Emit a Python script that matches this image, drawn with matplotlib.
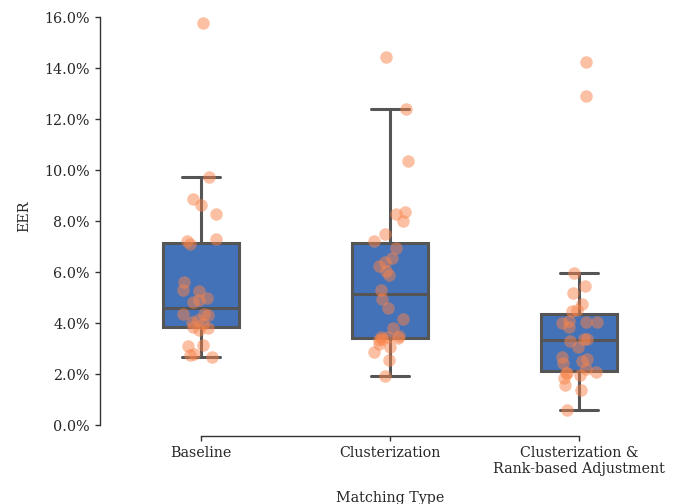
import numpy as np
import pandas as pd
import matplotlib
matplotlib.use("Agg")
import matplotlib.pyplot as plt
import seaborn as sns
from matplotlib.ticker import PercentFormatter

# valores de EER (%)
categorias = ["Baseline", "Clusterization", "Clusterization &\nRank-based Adjustment"]

baseline = [15.76, 9.73, 8.86, 8.64, 8.27, 7.30, 7.20, 7.10, 5.62, 5.27, 5.28,
            4.89, 4.99, 4.84, 4.33, 4.35, 4.35, 3.97, 4.04, 4.12, 3.86, 3.79,
            3.73, 3.10, 3.14, 2.68, 2.77, 2.73]
clusterization = [14.42, 12.39, 10.36, 8.29, 8.34, 8.00, 7.48, 7.23, 6.93, 6.55,
                  6.39, 6.22, 6.03, 5.90, 5.30, 4.95, 4.59, 4.14, 3.82, 3.36,
                  3.44, 3.44, 3.33, 3.18, 3.07, 2.87, 2.55, 1.93, 3.40, 3.50]
rank_adj = [14.25, 12.89, 5.95, 5.46, 5.16, 4.75, 4.46, 4.51, 3.99, 3.86, 4.05,
            4.09, 4.05, 3.37, 3.37, 3.05, 2.52, 2.68, 2.42, 2.05, 2.03, 1.83,
            1.57, 1.37, 0.61, 2.10, 2.20, 1.95, 2.60, 3.30]

series = [baseline, clusterization, rank_adj]

df = pd.DataFrame({
    "tipo": np.repeat(categorias, [len(s) for s in series]),
    "eer": np.concatenate(series),
})

sns.set_style("white")
plt.rcParams["font.family"] = ["DejaVu Serif"]

fig = plt.figure(figsize=(6.78, 5.04), dpi=100)
ax = fig.add_axes([0.157, 0.149, 0.836, 0.8435])

gris = "#555555"
ax.boxplot(series, positions=[0, 1, 2], widths=0.4, showfliers=False,
           patch_artist=True,
           boxprops=dict(facecolor="#4472B8", edgecolor=gris, linewidth=2.2),
           medianprops=dict(color=gris, linewidth=2.2),
           whiskerprops=dict(color=gris, linewidth=2.2),
           capprops=dict(color=gris, linewidth=2.2))

np.random.seed(3)
sns.stripplot(data=df, x="tipo", y="eer", order=categorias, jitter=0.1,
              color="#F9834A", alpha=0.5, size=9, linewidth=0, ax=ax, zorder=3)

ax.set_xlim(-0.5, 2.5)
ax.set_ylim(-0.15, 16.52)
ax.set_yticks(np.arange(0, 17, 2))
ax.yaxis.set_major_formatter(PercentFormatter(100, decimals=1))
ax.set_xticks([0, 1, 2])
ax.set_xticklabels(categorias)

for s in ["top", "right"]:
    ax.spines[s].set_visible(False)
ax.spines["left"].set_position(("outward", 5))
ax.spines["bottom"].set_position(("outward", 5))
ax.spines["left"].set_bounds(0, 16)
ax.spines["bottom"].set_bounds(0, 2)
for s in ["left", "bottom"]:
    ax.spines[s].set_color("#333333")
    ax.spines[s].set_linewidth(1.0)

ax.tick_params(axis="both", which="major", length=3.5, width=1.0, color="#333333",
               labelsize=10.3, left=True, bottom=True)
ax.set_ylabel("EER", fontsize=10.3, labelpad=9)
ax.set_xlabel("Matching Type", fontsize=10.3, labelpad=11)

fig.savefig("out.png", dpi=100)
